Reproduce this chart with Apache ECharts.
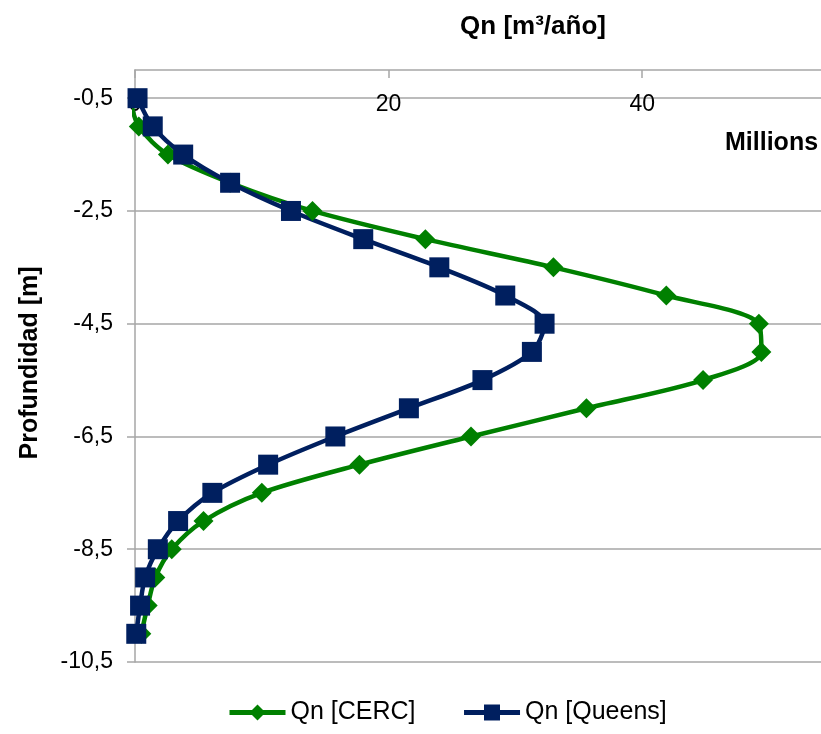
<!DOCTYPE html>
<html>
<head>
<meta charset="utf-8">
<script src="https://cdn.jsdelivr.net/npm/echarts@6/dist/echarts.min.js"></script>
<style>
html,body{margin:0;padding:0;background:#fff;}
#chart{width:821px;height:734px;}
</style>
</head>
<body>
<div id="chart"></div>
<script>
// Depth [m]
const depths = [-0.5,-1.0,-1.5,-2.0,-2.5,-3.0,-3.5,-4.0,-4.5,-5.0,-5.5,-6.0,-6.5,-7.0,-7.5,-8.0,-8.5,-9.0,-9.5,-10.0];
// Qn [m3/año] in millions
const qnCERC   = [-0.4,0.3,2.6,7.5,14.0,22.9,33.0,41.9,49.2,49.4,44.8,35.6,26.5,17.7,10.0,5.4,2.9,1.6,1.0,0.5];
const qnQueens = [0.2,1.4,3.8,7.5,12.3,18.0,24.0,29.2,32.3,31.3,27.4,21.6,15.8,10.5,6.1,3.4,1.8,0.8,0.4,0.1];
const seriesNames = ['Qn [CERC]','Qn [Queens]'];
const xTicks = [0,20,40];
const yTicks = [-10.5,-8.5,-6.5,-4.5,-2.5,-0.5];

const FONT = 'Liberation Sans, Arial, sans-serif';
const chart = echarts.init(document.getElementById('chart'));
const toPairs = vals => vals.map((v,i)=>[v,depths[i]]);

chart.setOption({
  animation:false,
  backgroundColor:'#fff',
  grid:{left:135, top:70, bottom:72, right:0, containLabel:false},
  xAxis:{
    type:'value', position:'top', min:0, max:54.1,
    axisLine:{show:true, lineStyle:{color:'#a6a6a6', width:1.5}},
    axisTick:{show:true, inside:true, length:8, customValues:xTicks, lineStyle:{color:'#a6a6a6', width:1.5}},
    axisLabel:{inside:true, margin:23, fontSize:23, color:'#000', fontFamily:FONT, customValues:xTicks,
      formatter: v => String(v)},
    splitLine:{show:false}
  },
  yAxis:{
    type:'value', min:-10.5, max:0, interval:2,
    axisLine:{show:true, lineStyle:{color:'#a6a6a6', width:1.5}},
    axisTick:{show:true, inside:false, length:8, customValues:yTicks, lineStyle:{color:'#a6a6a6', width:1.5}},
    axisLabel:{margin:22, fontSize:23, color:'#000', fontFamily:FONT, customValues:yTicks,
      formatter: v => v.toFixed(1).replace('.', ',')},
    splitLine:{show:true, lineStyle:{color:'#a6a6a6', width:1.5}}
  },
  legend:{
    bottom:4, left:222, itemWidth:56, itemHeight:20, itemGap:46,
    lineStyle:{width:5},
    textStyle:{fontSize:25, color:'#000', fontFamily:FONT},
    data:seriesNames
  },
  graphic:[
    {type:'text', x:533, y:14, style:{text:'Qn [m³/año]', font:'bold 26px '+FONT, fill:'#000', align:'center', verticalAlign:'top'}},
    {type:'text', left:725, top:131, style:{text:'Millions', font:'bold 25px '+FONT, fill:'#000'}},
    {type:'text', x:30, y:363, rotation:Math.PI/2, style:{text:'Profundidad [m]', font:'bold 25px '+FONT, fill:'#000', align:'center', verticalAlign:'middle'}}
  ],
  series:[
    {name:seriesNames[0], type:'line', data:toPairs(qnCERC), smooth:0.3,
      symbol:'diamond', symbolSize:20, showAllSymbol:true,
      lineStyle:{color:'#008000', width:4.5}, itemStyle:{color:'#008000'}},
    {name:seriesNames[1], type:'line', data:toPairs(qnQueens), smooth:0.3,
      symbol:'rect', symbolSize:20, showAllSymbol:true,
      lineStyle:{color:'#001f5f', width:4.5}, itemStyle:{color:'#001f5f'}}
  ]
});
</script>
</body>
</html>
